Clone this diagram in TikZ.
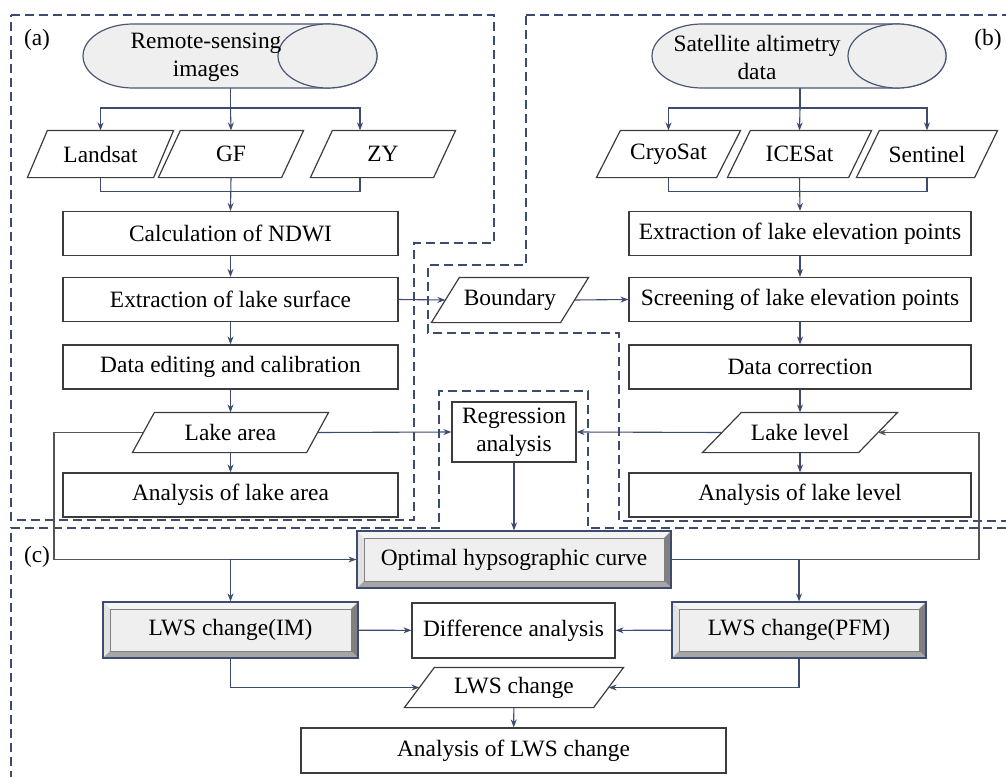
\documentclass[tikz,border=0pt]{standalone}
\usepackage{fontspec}
\setmainfont{Liberation Serif}
\usetikzlibrary{arrows.meta,calc}
\definecolor{navy}{RGB}{62,75,112}
\definecolor{boxline}{RGB}{60,60,60}
\definecolor{backline}{RGB}{85,85,85}
\definecolor{cylfill}{RGB}{239,239,239}
\definecolor{bevface}{RGB}{239,239,239}
\definecolor{bevtop}{RGB}{244,244,244}
\definecolor{bevleft}{RGB}{226,226,226}
\definecolor{bevright}{RGB}{128,128,128}
\definecolor{bevbot}{RGB}{166,166,166}
\def\bevw{7pt}
\newcommand{\bevelfacets}{%
\fill[bevtop] (path picture bounding box.north west) -- (path picture bounding box.north east)
  -- ++(-\bevw,-\bevw) -- ($(path picture bounding box.north west)+(\bevw,-\bevw)$) -- cycle;
\fill[bevleft] (path picture bounding box.north west) -- (path picture bounding box.south west)
  -- ++(\bevw,\bevw) -- ($(path picture bounding box.north west)+(\bevw,-\bevw)$) -- cycle;
\fill[bevright] (path picture bounding box.north east) -- (path picture bounding box.south east)
  -- ++(-\bevw,\bevw) -- ($(path picture bounding box.north east)+(-\bevw,-\bevw)$) -- cycle;
\fill[bevbot] (path picture bounding box.south west) -- (path picture bounding box.south east)
  -- ++(-\bevw,\bevw) -- ($(path picture bounding box.south west)+(\bevw,\bevw)$) -- cycle;
\draw[gray,line width=0.8pt] ($(path picture bounding box.north west)+(\bevw,-\bevw)$)
  rectangle ($(path picture bounding box.south east)+(-\bevw,\bevw)$);
}

\begin{document}
\begin{tikzpicture}[x=1pt,y=1pt,font=\fontsize{23.4}{28}\selectfont,
  proc/.style={draw=boxline,line width=1.2pt,fill=white,minimum height=44pt,inner sep=2pt},
  % io: mid width, height, half slant
  io/.style n args={3}{minimum width=#1,minimum height=#2,inner sep=2pt,outer sep=0.6pt,
    append after command={\pgfextra{\draw[boxline,line width=1.2pt]
      ($(\tikzlastnode.south west)+(-#3,0)$) -- ($(\tikzlastnode.north west)+(#3,0)$)
      -- ($(\tikzlastnode.north east)+(#3,0)$) -- ($(\tikzlastnode.south east)+(-#3,0)$) -- cycle;}}},
  bevel/.style={draw=navy,line width=1.2pt,fill=bevface,minimum height=57pt,path picture={\bevelfacets}},
  cyl/.style={draw=navy!80!gray,line width=1.2pt,fill=cylfill},
  panel/.style={navy,line width=1.1pt,dash pattern=on 9pt off 5pt},
  link/.style={navy,line width=1.1pt},
  arr/.style={navy,line width=1.1pt,-{Stealth[length=8pt,width=6pt]}},
  backarr/.style={backline,line width=1.1pt,-{Stealth[length=8pt,width=6pt]}}]
\useasboundingbox (0,0) rectangle (1006,-776);
\clip (0,0) rectangle (1006,-776);
% panels
\draw[panel] (11,-15) -- (494,-15) -- (494,-243) -- (414,-243) -- (414,-520) -- (11,-520) -- cycle;
\draw[panel] (526,-15) -- (1012,-15) -- (1012,-521) -- (619,-521) -- (619,-333) -- (428,-333) -- (428,-265) -- (526,-265) -- cycle;
\draw[panel] (11,-780) -- (11,-528) -- (439,-528) -- (439,-391) -- (588,-391) -- (588,-528) -- (1012,-528);
\node (laba) at (37,-40) {(a)};
\node (labb) at (988,-40) {(b)};
\node (labc) at (37,-557) {(c)};
% sources
\filldraw[cyl] (133,-24) -- (327.5,-24) arc[start angle=90,end angle=-90,x radius=49.5pt,y radius=32pt]
  -- (133,-88) arc[start angle=270,end angle=90,x radius=50pt,y radius=32pt] -- cycle;
\draw[cyl] (327.5,-56) ellipse[x radius=49.5pt,y radius=32pt];
\node[align=center] (rs) at (206,-57) {Remote-sensing\\images};
\coordinate (rsout) at (230.5,-88);
\filldraw[cyl] (702,-24) -- (897,-24) arc[start angle=90,end angle=-90,x radius=49pt,y radius=32pt]
  -- (702,-88) arc[start angle=270,end angle=90,x radius=50pt,y radius=32pt] -- cycle;
\draw[cyl] (897,-56) ellipse[x radius=49pt,y radius=32pt];
\node[align=center] (sa) at (757,-57) {Satellite altimetry\\data};
\coordinate (saout) at (800,-88);
% satellites
\node[io={125}{46}{10}] (landsat) at (100.5,-154) {Landsat};
\node[io={122}{46}{11}] (gf) at (231,-154) {GF};
\node[io={122}{46}{11}] (zy) at (383,-154) {ZY};
\node[io={119}{46}{12}] (cryo) at (668.5,-154) {CryoSat};
\node[io={120}{46}{11.5}] (ice) at (799.5,-154) {ICESat};
\node[io={117}{46}{11.5}] (senti) at (927,-154) {Sentinel};
% (a)
\node[proc,minimum width=335pt] (ndwi) at (230.5,-233.5) {Calculation of NDWI};
\node[proc,minimum width=335pt] (surf) at (230.5,-299.5) {Extraction of lake surface};
\node[proc,minimum width=335pt] (edit) at (230.5,-367) {Data editing and calibration};
\node[io={173}{39}{11}] (area) at (230.5,-432.5) {Lake area};
\node[proc,minimum width=335pt] (anarea) at (230.5,-495) {Analysis of lake area};
% (b)
\node[proc,minimum width=342pt] (elev) at (800,-233.5) {Extraction of lake elevation points};
\node[proc,minimum width=342pt] (screen) at (800,-299.5) {Screening of lake elevation points};
\node[proc,minimum width=342pt] (corr) at (800,-367) {Data correction};
\node[io={155}{39}{19.5}] (level) at (800,-432.5) {Lake level};
\node[proc,minimum width=342pt] (anlevel) at (800,-495) {Analysis of lake level};
% middle
\node[io={128}{44}{14}] (bound) at (510,-300) {Boundary};
\node[proc,align=center,minimum width=124pt,minimum height=60pt] (reg) at (514,-432) {Regression\\analysis};
% (c)
\node[bevel,minimum width=314pt] (opt) at (514,-559.5) {Optimal hypsographic curve};
\node[bevel,minimum width=255pt,minimum height=56pt] (im) at (230.5,-630) {LWS change(IM)};
\node[proc,minimum width=203pt,minimum height=55pt] (diff) at (513.5,-630.5) {Difference analysis};
\node[bevel,minimum width=254pt,minimum height=56pt] (pfm) at (799,-630) {LWS change(PFM)};
\node[io={188}{39}{15}] (lws) at (514,-687.5) {LWS change};
\node[proc,minimum width=425pt,minimum height=45pt] (anlws) at (513.5,-750.5) {Analysis of LWS change};
% buses
\coordinate (busa) at (230.5,-108);
\coordinate (busb) at (800,-108);
\draw[link] (rsout) -- (busa);
\draw[arr] (busa) -- (gf.north);
\draw[arr] (busa) -| (landsat.north);
\draw[arr] (busa) -| ($(zy.north)+(-23,0)$);
\draw[link] (landsat.south) -- ++(0,-14) -| ($(zy.south)+(-23,0)$);
\draw[arr] (gf.south) -- (ndwi.north);
\draw[link] (saout) -- (busb);
\draw[arr] (busb) -- (ice.north);
\draw[arr] (busb) -| (cryo.north);
\draw[arr] (busb) -| (senti.north);
\draw[link] (cryo.south) -- ++(0,-14) -| (senti.south);
\draw[arr] (ice.south) -- (elev.north);
% columns
\draw[arr] (ndwi) -- (surf);
\draw[arr] (surf) -- (edit);
\draw[arr] (edit) -- (area);
\draw[arr] (area) -- (anarea);
\draw[arr] (elev) -- (screen);
\draw[arr] (screen) -- (corr);
\draw[arr] (corr) -- (level);
\draw[arr] (level) -- (anlevel);
\draw[arr] (surf.east) -- (bound.west);
\draw[arr] (bound.east) -- (screen.west);
\draw[arr] (area.east) -- (reg.west);
\draw[arr] (level.west) -- (reg.east);
\draw[arr] (reg) -- (opt);
% curve and change
\coordinate (turnl) at (54,-432.5);
\coordinate (turnr) at (979,-559.5);
\draw[backarr] (area.west) -- (turnl) |- (opt.west);
\draw[backarr] (opt.east) -- (turnr) |- (level.east);
\draw[arr] (opt.west) -| (im.north);
\draw[arr] (opt.east) -| (pfm.north);
\draw[arr] (im) -- (diff);
\draw[arr] (pfm) -- (diff);
\draw[arr] (im.south) |- (lws.west);
\draw[arr] (pfm.south) |- (lws.east);
\draw[arr] (lws) -- (anlws);
\end{tikzpicture}
\end{document}
